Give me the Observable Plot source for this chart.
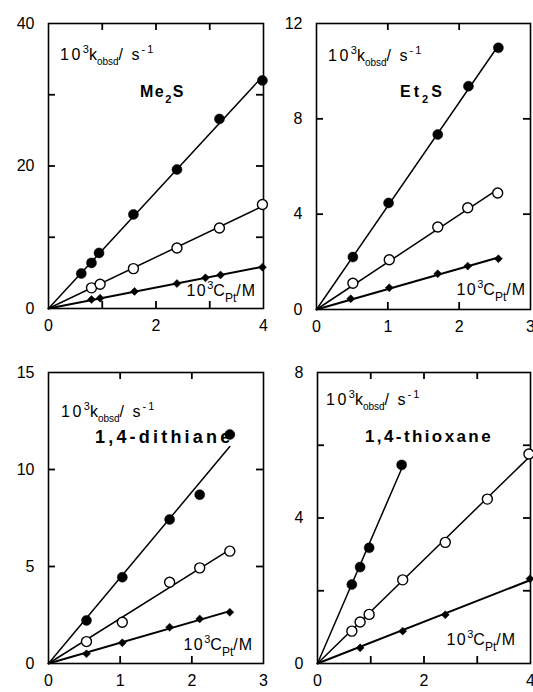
<!DOCTYPE html>
<html><head><meta charset="utf-8">
<script src="https://cdn.jsdelivr.net/npm/d3@7"></script>
<script src="https://cdn.jsdelivr.net/npm/@observablehq/plot@0.6"></script>
<style>
html,body{margin:0;padding:0;background:#fff;}
#wrap{position:relative;width:533px;height:692px;overflow:hidden;background:#fff;}
#wrap svg{position:absolute;overflow:visible;}
</style></head><body><div id="wrap"></div>
<script>
// ---------- data (10^3 C_Pt / M  vs  10^3 k_obsd / s^-1) ----------
// Me2S
const me2sFilledX = [0.61, 0.80, 0.94, 1.58, 2.39, 3.18, 3.98];
const me2sFilledY = [4.9, 6.4, 7.8, 13.2, 19.5, 26.6, 32.0];
const me2sOpenX   = [0.80, 0.96, 1.58, 2.39, 3.18, 3.98];
const me2sOpenY   = [2.9, 3.4, 5.6, 8.5, 11.3, 14.6];
const me2sDiamX   = [0.80, 0.96, 1.60, 2.39, 2.92, 3.20, 3.98];
const me2sDiamY   = [1.25, 1.45, 2.4, 3.5, 4.3, 4.7, 5.8];
// Et2S
const et2sFilledX = [0.51, 1.01, 1.70, 2.13, 2.55];
const et2sFilledY = [2.2, 4.47, 7.34, 9.37, 10.98];
const et2sOpenX   = [0.51, 1.02, 1.70, 2.12, 2.54];
const et2sOpenY   = [1.1, 2.09, 3.46, 4.27, 4.89];
const et2sDiamX   = [0.48, 1.02, 1.70, 2.12, 2.55];
const et2sDiamY   = [0.45, 0.91, 1.5, 1.82, 2.13];
// 1,4-dithiane
const dithFilledX = [0.53, 1.03, 1.69, 2.11, 2.53];
const dithFilledY = [2.22, 4.45, 7.42, 8.7, 11.8];
const dithOpenX   = [0.53, 1.03, 1.69, 2.11, 2.53];
const dithOpenY   = [1.13, 2.13, 4.19, 4.93, 5.79];
const dithDiamX   = [0.53, 1.03, 1.69, 2.11, 2.53];
const dithDiamY   = [0.5, 1.07, 1.87, 2.3, 2.64];
// 1,4-thioxane
const thioFilledX = [0.645, 0.80, 0.97, 1.58];
const thioFilledY = [2.17, 2.65, 3.18, 5.46];
const thioOpenX   = [0.645, 0.80, 0.97, 1.60, 2.40, 3.19, 3.97];
const thioOpenY   = [0.89, 1.14, 1.35, 2.3, 3.33, 4.52, 5.76];
const thioDiamX   = [0.80, 1.60, 2.40, 3.99];
const thioDiamY   = [0.43, 0.89, 1.34, 2.33];

// ---------- axes ----------
const me2sXLabels = [0, 2, 4],    me2sYLabels = [0, 20, 40];
const me2sXTicks  = [1, 2, 3],    me2sYTicks  = [10, 20, 30];
const et2sXLabels = [0, 1, 2, 3], et2sYLabels = [0, 4, 8, 12];
const et2sXTicks  = [1, 2],       et2sYTicks  = [4, 8];
const dithXLabels = [0, 1, 2, 3], dithYLabels = [0, 5, 10, 15];
const dithXTicks  = [1, 2],       dithYTicks  = [5, 10];
const thioXLabels = [0, 2, 4],    thioYLabels = [0, 4, 8];
const thioXTicks  = [1, 2, 3],    thioYTicks  = [2, 4, 6];

// ---------- texts ----------
const compoundNames = ["Me", "Et", "1,4-dithiane", "1,4-thioxane"];

const FONT = "'Liberation Sans', Arial, Helvetica, sans-serif";
const TICK = 7;

function rows(xs, ys) { return xs.map((x, i) => ({x, y: ys[i]})); }
function fitLine(xs, ys) {
  // least-squares line through the origin, drawn from 0 to the last concentration
  const sxy = d3.sum(xs, (x, i) => x * ys[i]);
  const sxx = d3.sum(xs, x => x * x);
  const k = sxy / sxx;
  return [0, d3.max(xs)].map(x => ({x, y: k * x}));
}

function panel(cfg) {
  const {left, top, width, height, m, xDomain, yDomain, xTicks, yTicks, xLabels, yLabels, filled, open, diam} = cfg;
  const W = width - m[1] - m[3], H = height - m[0] - m[2];
  // tick length converted into data units of each scale
  const tx = TICK * (xDomain[1] - xDomain[0]) / W;
  const ty = TICK * (yDomain[1] - yDomain[0]) / H;
  const tickStyle = {stroke: "black", strokeWidth: 1.8};
  const svg = Plot.plot({
    width, height,
    marginTop: m[0], marginRight: m[1], marginBottom: m[2], marginLeft: m[3],
    style: {fontFamily: FONT, fontSize: "16px", background: "transparent", color: "black", overflow: "visible"},
    x: {domain: xDomain, label: null},
    y: {domain: yDomain, label: null},
    marks: [
      // inward ticks on all four sides
      Plot.ruleX(xTicks, {x: d => d, y1: yDomain[0], y2: yDomain[0] + ty, ...tickStyle}),
      Plot.ruleX(xTicks, {x: d => d, y1: yDomain[1], y2: yDomain[1] - ty, ...tickStyle}),
      Plot.ruleY(yTicks, {y: d => d, x1: xDomain[0], x2: xDomain[0] + tx, ...tickStyle}),
      Plot.ruleY(yTicks, {y: d => d, x1: xDomain[1], x2: xDomain[1] - tx, ...tickStyle}),
      Plot.axisX(xLabels, {anchor: "bottom", tickSize: 0, tickPadding: 11, label: null, fontSize: 16}),
      Plot.axisY(yLabels, {anchor: "left", tickSize: 0, tickPadding: 14, label: null, fontSize: 16}),
      Plot.frame({stroke: "black", strokeWidth: 1.6}),
      Plot.line(fitLine(filled[0], filled[1]), {x: "x", y: "y", stroke: "black", strokeWidth: 1.5}),
      Plot.line(fitLine(open[0], open[1]), {x: "x", y: "y", stroke: "black", strokeWidth: 1.5}),
      Plot.line(fitLine(diam[0], diam[1]), {x: "x", y: "y", stroke: "black", strokeWidth: 2}),
      Plot.dot(rows(diam[0], diam[1]), {x: "x", y: "y", symbol: "diamond2", r: 3.6, fill: "black", stroke: "black", strokeWidth: 0.5}),
      Plot.dot(rows(open[0], open[1]), {x: "x", y: "y", r: 5, fill: "white", stroke: "black", strokeWidth: 1.4}),
      Plot.dot(rows(filled[0], filled[1]), {x: "x", y: "y", r: 5, fill: "black", stroke: "black", strokeWidth: 0.5})
    ]
  });
  svg.style.left = left + "px";
  svg.style.top = top + "px";
  document.getElementById("wrap").appendChild(svg);
  const L = m[3], T = m[0], R = width - m[1], B = height - m[2];
  const g = d3.select(svg).append("g").attr("font-family", FONT).attr("fill", "black").attr("text-anchor", "start");

  // 10^3 k_obsd / s^-1
  const k = g.append("text").attr("x", L + cfg.kdx).attr("y", T + cfg.kdy).attr("font-size", 16).attr("text-anchor", "start");
  k.append("tspan").attr("letter-spacing", 2.5).text("10");
  k.append("tspan").attr("font-size", 11).attr("dy", -7).text("3");
  k.append("tspan").attr("dy", 7).text("k");
  k.append("tspan").attr("font-size", 10).attr("dy", 5).text("obsd");
  k.append("tspan").attr("dy", -5).attr("letter-spacing", 2).text("/ s");
  k.append("tspan").attr("font-size", 11).attr("dy", -7).attr("letter-spacing", 2).text("-1");

  // 10^3 C_Pt / M
  const c = g.append("text").attr("x", R - cfg.cdx).attr("y", B - cfg.cdy).attr("font-size", 16).attr("text-anchor", "end");
  c.append("tspan").attr("letter-spacing", 1.5).text("10");
  c.append("tspan").attr("font-size", 11).attr("dy", -7).text("3");
  c.append("tspan").attr("dy", 7).text("C");
  c.append("tspan").attr("font-size", 12).attr("dy", 6).text("Pt");
  c.append("tspan").attr("dy", -6).attr("letter-spacing", 1).text("/M");

  // compound name
  const n = g.append("text").attr("x", L + cfg.ndx).attr("y", T + cfg.ndy).attr("text-anchor", "start")
    .attr("font-size", cfg.nsize).attr("font-weight", "bold").attr("letter-spacing", cfg.nspace);
  n.append("tspan").text(cfg.name);
  if (cfg.sub) {
    n.append("tspan").attr("font-size", 11).attr("dy", 6).text("2");
    n.append("tspan").attr("dy", -6).text("S");
  }
}

panel({left: 0, top: 0, width: 266, height: 335, m: [23, 3, 27, 48],
  xDomain: [0, 4], yDomain: [0, 40], xTicks: me2sXTicks, yTicks: me2sYTicks, xLabels: me2sXLabels, yLabels: me2sYLabels,
  filled: [me2sFilledX, me2sFilledY], open: [me2sOpenX, me2sOpenY], diam: [me2sDiamX, me2sDiamY],
  kdx: 12, kdy: 37, cdx: 7, cdy: 12, ndx: 92, ndy: 74, name: compoundNames[0], sub: true, nsize: 16, nspace: 1.5});
panel({left: 266, top: 0, width: 267, height: 335, m: [23, 3, 26, 50],
  xDomain: [0, 3], yDomain: [0, 12], xTicks: et2sXTicks, yTicks: et2sYTicks, xLabels: et2sXLabels, yLabels: et2sYLabels,
  filled: [et2sFilledX, et2sFilledY], open: [et2sOpenX, et2sOpenY], diam: [et2sDiamX, et2sDiamY],
  kdx: 12, kdy: 38, cdx: 4, cdy: 14, ndx: 84, ndy: 74, name: compoundNames[1], sub: true, nsize: 16, nspace: 3});
panel({left: 0, top: 346, width: 266, height: 346, m: [26, 3, 29, 48],
  xDomain: [0, 3], yDomain: [0, 15], xTicks: dithXTicks, yTicks: dithYTicks, xLabels: dithXLabels, yLabels: dithYLabels,
  filled: [dithFilledX, dithFilledY], open: [dithOpenX, dithOpenY], diam: [dithDiamX, dithDiamY],
  kdx: 13, kdy: 45, cdx: 10, cdy: 13, ndx: 47, ndy: 71, name: compoundNames[2], sub: false, nsize: 18, nspace: 3.2});
panel({left: 266, top: 346, width: 267, height: 346, m: [26, 3, 29, 51],
  xDomain: [0, 4], yDomain: [0, 8], xTicks: thioXTicks, yTicks: thioYTicks, xLabels: thioXLabels, yLabels: thioYLabels,
  filled: [thioFilledX, thioFilledY], open: [thioOpenX, thioOpenY], diam: [thioDiamX, thioDiamY],
  kdx: 9, kdy: 33, cdx: 14, cdy: 18, ndx: 48, ndy: 70, name: compoundNames[3], sub: false, nsize: 17, nspace: 2.4});
</script>
</body></html>
